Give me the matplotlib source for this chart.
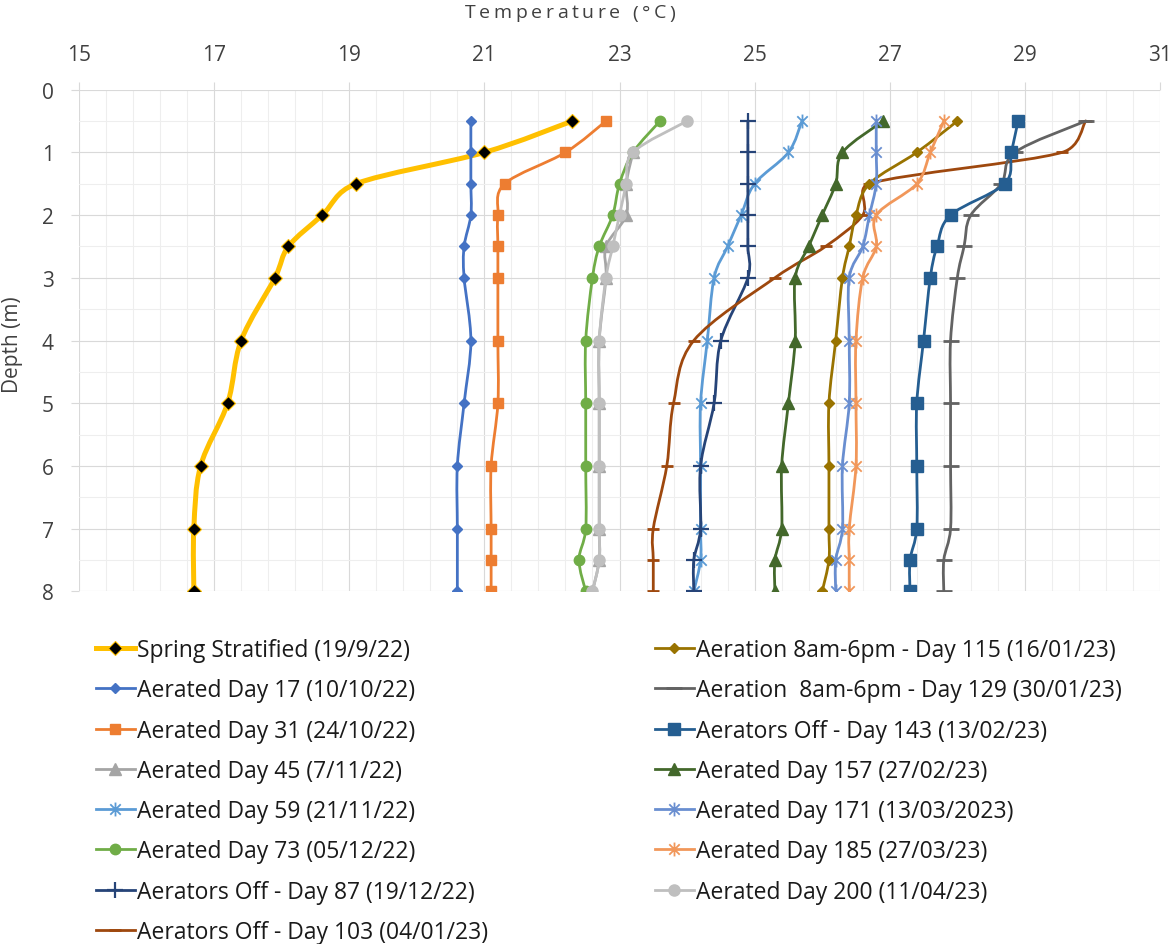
import numpy as np
import matplotlib.pyplot as plt
from matplotlib.path import Path
from matplotlib.patches import PathPatch
from matplotlib.lines import Line2D
from matplotlib.ticker import FixedLocator

plt.rcParams['font.family'] = ['Open Sans', 'DejaVu Sans']

# depths (m)
depth_a = [0.5, 1, 1.5, 2, 2.5, 3, 4, 5, 6, 7, 8]
depth_b = [0.5, 1, 1.5, 2, 2.5, 3, 4, 5, 6, 7, 7.5, 8]
depth_c = [1, 1.5, 2, 2.5, 3, 4, 5, 6, 7, 7.5, 8]

# temperatures (°C)
spring = [22.3, 21.0, 19.1, 18.6, 18.1, 17.9, 17.4, 17.2, 16.8, 16.7, 16.7]
day17 = [20.8, 20.8, 20.8, 20.8, 20.7, 20.7, 20.8, 20.7, 20.6, 20.6, 20.6]
day31 = [22.8, 22.2, 21.3, 21.2, 21.2, 21.2, 21.2, 21.2, 21.1, 21.1, 21.1, 21.1]
day45 = [23.2, 23.1, 23.1, 22.8, 22.8, 22.7, 22.7, 22.7, 22.7, 22.7, 22.6]
day59 = [25.7, 25.5, 25.0, 24.8, 24.6, 24.4, 24.3, 24.2, 24.2, 24.2, 24.2, 24.1]
day73 = [23.6, 23.2, 23.0, 22.9, 22.7, 22.6, 22.5, 22.5, 22.5, 22.5, 22.4, 22.5]
day87 = [24.9, 24.9, 24.9, 24.9, 24.9, 24.9, 24.5, 24.4, 24.2, 24.2, 24.1, 24.1]
day103 = [29.9, 29.55, 26.7, 26.6, 26.05, 25.3, 24.1, 23.8, 23.7, 23.5, 23.5, 23.5]
day115 = [28.0, 27.4, 26.7, 26.5, 26.4, 26.3, 26.2, 26.1, 26.1, 26.1, 26.1, 26.0]
day129 = [29.9, 28.85, 28.65, 28.2, 28.1, 28.0, 27.9, 27.9, 27.9, 27.9, 27.8, 27.8]
day143 = [28.9, 28.8, 28.7, 27.9, 27.7, 27.6, 27.5, 27.4, 27.4, 27.4, 27.3, 27.3]
day157 = [26.9, 26.3, 26.2, 26.0, 25.8, 25.6, 25.6, 25.5, 25.4, 25.4, 25.3, 25.3]
day171 = [26.8, 26.8, 26.8, 26.7, 26.6, 26.4, 26.4, 26.4, 26.3, 26.3, 26.2, 26.2]
day185 = [27.8, 27.6, 27.4, 26.8, 26.8, 26.6, 26.5, 26.5, 26.5, 26.4, 26.4, 26.4]
day200 = [24.0, 23.2, 23.1, 23.0, 22.9, 22.8, 22.7, 22.7, 22.7, 22.7, 22.7, 22.6]

x_ticks = [15, 17, 19, 21, 23, 25, 27, 29, 31]
y_ticks = [0, 1, 2, 3, 4, 5, 6, 7, 8]

# excel style "star" marker: x with a vertical bar
star = Path([(0, -1), (0, 1), (-0.75, -0.75), (0.75, 0.75), (-0.75, 0.75), (0.75, -0.75)],
            [Path.MOVETO, Path.LINETO] * 3)

# label, depths, temps, colour, line width, marker, size, face, edge, edge width
series = [
    ("Spring Stratified (19/9/22)", depth_a, spring, "#FFC000", 3.6, "D", 7.2, "black", "#FFC000", 0.8),
    ("Aerated Day 17 (10/10/22)", depth_a, day17, "#4472C4", 2.0, "D", 5.0, "#4472C4", "#4472C4", 1),
    ("Aerated Day 31 (24/10/22)", depth_b, day31, "#ED7D31", 2.0, "s", 7.5, "#ED7D31", "#ED7D31", 1),
    ("Aerated Day 45 (7/11/22)", depth_c, day45, "#A5A5A5", 2.0, "^", 8, "#A5A5A5", "#A5A5A5", 1),
    ("Aerated Day 59 (21/11/22)", depth_b, day59, "#5B9BD5", 2.0, star, 10, "none", "#5B9BD5", 1.3),
    ("Aerated Day 73 (05/12/22)", depth_b, day73, "#70AD47", 2.0, "o", 7.5, "#70AD47", "#70AD47", 1),
    ("Aerators Off - Day 87 (19/12/22)", depth_b, day87, "#264478", 2.0, "+", 11, "#264478", "#264478", 1.6),
    ("Aerators Off - Day 103 (04/01/23)", depth_b, day103, "#9E480E", 2.0, "_", 8, "#9E480E", "#9E480E", 2),
    ("Aeration 8am-6pm - Day 115 (16/01/23)", depth_b, day115, "#997300", 2.0, "D", 5.5, "#997300", "#997300", 1),
    ("Aeration  8am-6pm - Day 129 (30/01/23)", depth_b, day129, "#636363", 2.0, "_", 11, "#636363", "#636363", 2),
    ("Aerators Off - Day 143 (13/02/23)", depth_b, day143, "#255E91", 2.0, "s", 8.5, "#255E91", "#255E91", 1),
    ("Aerated Day 157 (27/02/23)", depth_b, day157, "#43682B", 2.0, "^", 8.5, "#43682B", "#43682B", 1),
    ("Aerated Day 171 (13/03/2023)", depth_b, day171, "#698ED0", 2.0, star, 10, "none", "#698ED0", 1.3),
    ("Aerated Day 185 (27/03/23)", depth_b, day185, "#F1975A", 2.0, star, 10, "none", "#F1975A", 1.3),
    ("Aerated Day 200 (11/04/23)", depth_b, day200, "#BFBFBF", 2.0, "o", 8, "#BFBFBF", "#BFBFBF", 1),
]

# axes box in pixels
X0, X1, Y0, Y1 = 79, 1160, 90.7, 592.3
SX = (X1 - X0) / (x_ticks[-1] - x_ticks[0])
SY = (Y1 - Y0) / (y_ticks[-1] - y_ticks[0])


def smooth_path(xs, ys):
    # bezier through the points like excel's smoothed line,
    # control arms capped at half the segment length (in pixels)
    pts = [np.array([x * SX, y * SY]) for x, y in zip(xs, ys)]
    n = len(pts)
    verts = [pts[0]]
    codes = [Path.MOVETO]
    for i in range(n - 1):
        p0 = pts[i - 1] if i > 0 else pts[i]
        p1 = pts[i]
        p2 = pts[i + 1]
        p3 = pts[i + 2] if i + 2 < n else pts[i + 1]
        half = np.hypot(*(p2 - p1)) / 2
        v1 = (p2 - p0) / 6
        v2 = (p3 - p1) / 6
        for v in (v1, v2):
            L = np.hypot(*v)
            if L > half:
                v *= half / L
        verts += [p1 + v1, p2 - v2, p2]
        codes += [Path.CURVE4] * 3
    verts = [(v[0] / SX, v[1] / SY) for v in verts]
    return Path(verts, codes)


fig = plt.figure(figsize=(11.76, 9.45), dpi=100)
ax = fig.add_axes([X0 / 1176, 1 - Y1 / 945, (X1 - X0) / 1176, (Y1 - Y0) / 945])

handles = []
for i, (lab, d, t, c, lw, m, ms, mfc, mec, mew) in enumerate(series):
    z = 3 + i * 0.01
    ax.add_patch(PathPatch(smooth_path(t, d), fill=False, edgecolor=c, lw=lw,
                           capstyle="round", joinstyle="round", zorder=z))
    ax.plot(t, d, linestyle="none", marker=m, ms=ms, mfc=mfc, mec=mec, mew=mew, zorder=z + 0.005)
    handles.append(Line2D([], [], color=c, lw=lw, marker=m, ms=ms, mfc=mfc, mec=mec, mew=mew, label=lab))

ax.set_xlim(x_ticks[0], x_ticks[-1])
ax.set_ylim(y_ticks[-1], y_ticks[0])
ax.xaxis.tick_top()
ax.xaxis.set_major_locator(FixedLocator(x_ticks))
ax.xaxis.set_minor_locator(FixedLocator(np.arange(15, 31.01, 0.4)))
ax.yaxis.set_major_locator(FixedLocator(y_ticks))
ax.yaxis.set_minor_locator(FixedLocator(np.arange(0.5, 8, 1.0)))
ax.grid(which="major", color="#D9D9D9", lw=0.8)
ax.grid(which="minor", color="#EEEEEE", lw=0.8)
ax.set_axisbelow(True)
for s in ax.spines.values():
    s.set_visible(False)
ax.tick_params(which="major", length=6, color="#D9D9D9", width=0.8, labelsize=15,
               labelcolor="#404040", pad=12)
ax.tick_params(which="minor", length=0)

# axis title with wide letter spacing, placed one character at a time
renderer = fig.canvas.get_renderer()
title = "Temperature (°C)"
tsize = 14
track = 3.6


def text_w(s):
    t = fig.text(0, 0, s, fontsize=tsize)
    w = t.get_window_extent(renderer).width
    t.remove()
    return w


ref_w = text_w("x")
adv = [text_w(title[:k] + "x") - ref_w for k in range(len(title))]
total = text_w(title) + track * (len(title) - 1)
left = 570 - total / 2
for k, ch in enumerate(title):
    fig.text((left + adv[k] + track * k) / 1176, 1 - 18.5 / 945, ch, ha="left", va="baseline",
             fontsize=tsize, color="#404040")

fig.text(13 / 1176, 1 - 345 / 945, "Depth (m)", ha="center", va="center",
         rotation=90, fontsize=15, color="#404040")

kw = dict(loc="upper left", frameon=False, fontsize=16.5, handlelength=1.7,
          handletextpad=0.1, labelspacing=0.71, borderpad=0, borderaxespad=0)
leg1 = fig.legend(handles=handles[:8], bbox_to_anchor=(96 / 1176, 1 - 639 / 945), **kw)
leg2 = fig.legend(handles=handles[8:], bbox_to_anchor=(655 / 1176, 1 - 639 / 945), **kw)
for leg in (leg1, leg2):
    for txt in leg.get_texts():
        txt.set_color("#1a1a1a")

fig.savefig("out.png", dpi=100)
